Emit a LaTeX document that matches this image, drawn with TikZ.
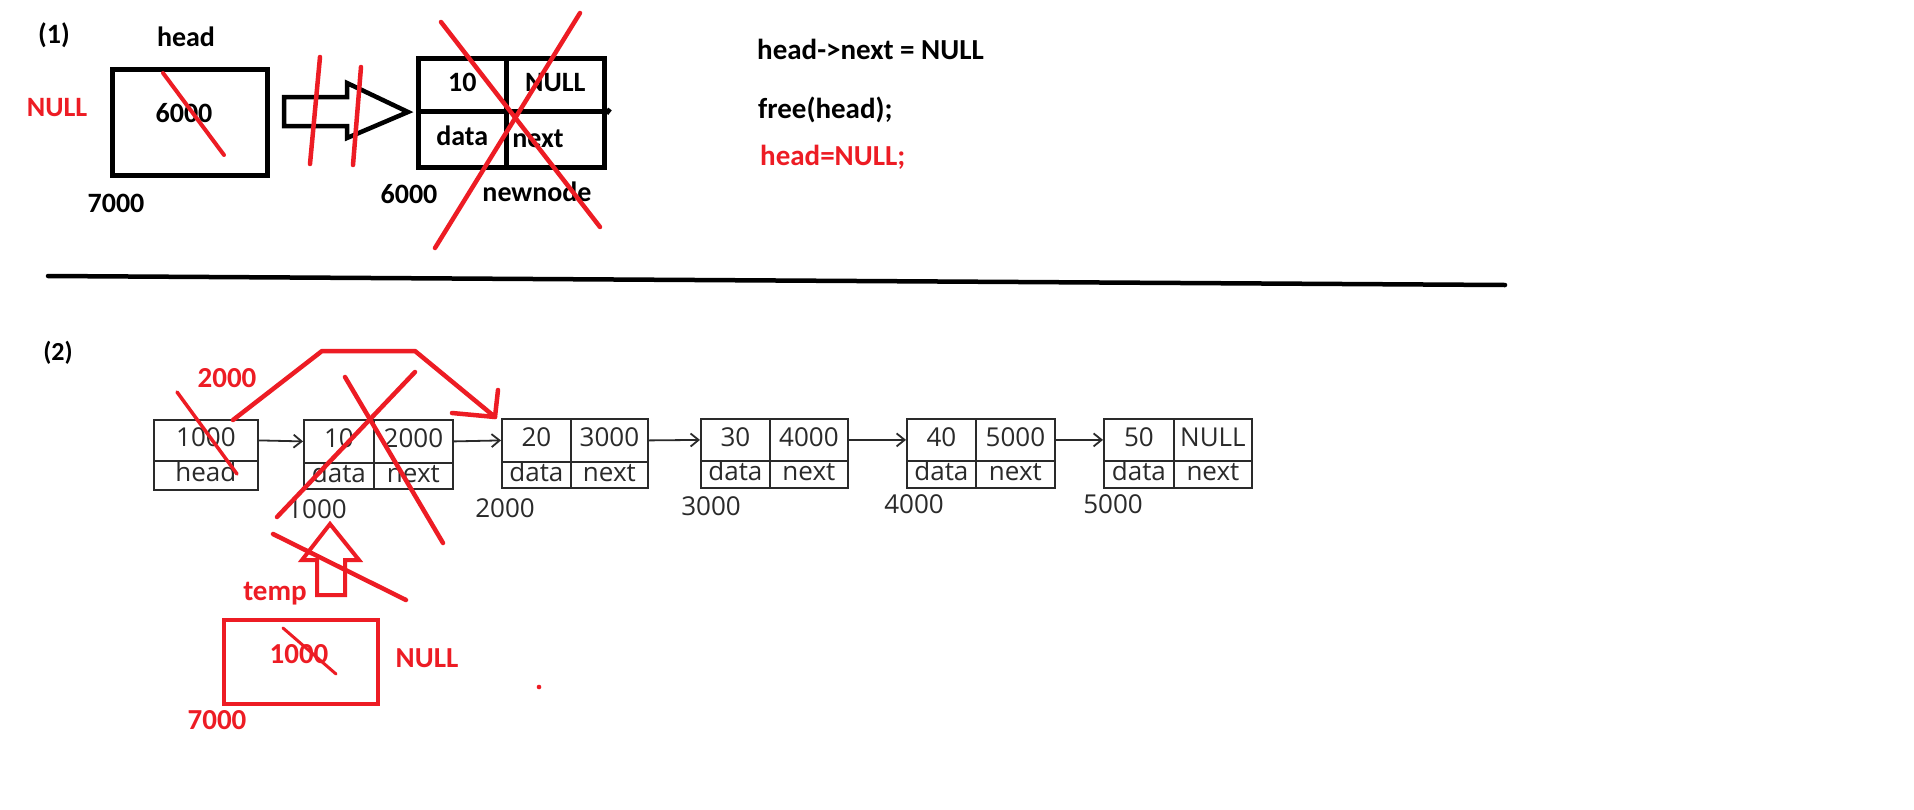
\documentclass[tikz,border=0pt]{standalone}
\usepackage{fontspec}
\setmainfont{Carlito}
\newfontfamily\osf{Open Sans}
\usetikzlibrary{arrows.meta}
\definecolor{pred}{HTML}{ED1C24}
\definecolor{lk}{HTML}{2A2A2A}
\begin{document}
\begin{tikzpicture}[x=1pt,y=-1pt,
 txt/.style={inner sep=0pt, text height=0.66em, text depth=0pt, yshift=-7pt},
 b28/.style={txt, font=\fontsize{28}{32}\selectfont\bfseries},
 b26/.style={txt, font=\fontsize{26}{30}\selectfont\bfseries},
 b29/.style={txt, font=\fontsize{29}{34}\selectfont\bfseries},
 r29/.style={b29, text=pred},
 code/.style={b29, anchor=west, yshift=-2pt},
 redln/.style={draw=pred, line width=4.5pt, line cap=round, line join=round},
 bigcell/.style={draw, line width=4.5pt, inner sep=0pt, anchor=north west, text height=1.25em, text depth=0pt, font=\fontsize{28}{32}\selectfont\bfseries},
 cell/.style={draw=lk, line width=1.8pt, inner sep=0pt, anchor=north west, text height=1.3em, text depth=0pt, text=lk, font=\osf\fontsize{26}{30}\selectfont},
 lab/.style={txt, text=lk, font=\osf\fontsize{26}{30}\selectfont},
 link/.style={draw=lk, line width=1.8pt, -{Straight Barb[length=8pt,width=13pt,line width=1.8pt]}},
]
\fill[white] (0,0) rectangle (1914,809);
\useasboundingbox (0,0) rectangle (1914,809);

% ---------- section (1) ----------
\node[b28] (p1) at (54,33) {(1)};
\node[b28] (hname) at (186,36) {head};
\node[b28, text=pred] (hnull) at (57,106) {NULL};
\node[bigcell, minimum width=155pt, minimum height=106pt] (hbox) at (110,67) {};
\node[b28] (hval) at (184,112) {6000};
\node[b28] (haddr) at (116,202) {7000};

% block arrow
\draw[line width=4.5pt, line join=miter] (284,97) -- (347,97) -- (347,83) -- (408,112) -- (347,138) -- (347,126) -- (284,126) -- cycle;

% newnode
\node[bigcell, minimum width=88pt, minimum height=53pt] (nn1) at (416,56) {10};
\node[bigcell, minimum width=98pt, minimum height=53pt] (nn2) at (504,56) {NULL};
\node[bigcell, minimum width=88pt, minimum height=56pt] (nn3) at (416,109) {data};
\node[bigcell, minimum width=98pt, minimum height=56pt] (nn4) at (504,109) {};
\node[b28] (nnext) at (538,137) {next};
\coordinate (ext) at (610,109);
\draw[line width=4.5pt] (nn2.south east) -- (ext);
\node[b28] (naddr) at (409,193) {6000};
\node[b28] (nname) at (537,191) {newnode};

% code
\node[code] (c1) at (757,47) {head->next = NULL};
\node[code] (c2) at (758,106) {free(head);};
\node[code, text=pred] (c3) at (760,153) {head=NULL;};

% red strokes (1)
\draw[redln, line width=4pt] (163,73) -- (224,155);
\draw[redln] (320,57) -- (310,164);
\draw[redln] (361,67) -- (353,165);
\draw[redln] (441,22) -- (600,227);
\draw[redln] (580,13) -- (435,248);

% separator
\draw[line width=4.5pt, line cap=round] (48,276) -- (1505,285);

% ---------- section (2) ----------
\node[b26] (p2) at (58,350) {(2)};
\node[r29] (r2000) at (227,377) {2000};

\node[cell, minimum width=104pt, minimum height=41pt] (hd1) at (153,419) {1000};
\node[cell, minimum width=104pt, minimum height=29pt] (hd2) at (153,460) {head};

\node[cell, minimum width=70pt, minimum height=43pt] (a1) at (303,419) {10};
\node[cell, minimum width=79pt, minimum height=43pt] (b1) at (373,419) {2000};
\node[cell, minimum width=70pt, minimum height=26pt] (c1n) at (303,462) {data};
\node[cell, minimum width=79pt, minimum height=26pt] (d1) at (373,462) {next};
\node[lab] (l1) at (317,508) {1000};

\node[cell, minimum width=69pt, minimum height=43pt] (a2) at (501,418) {20};
\node[cell, minimum width=77pt, minimum height=43pt] (b2) at (570,418) {3000};
\node[cell, minimum width=69pt, minimum height=26pt] (c2n) at (501,461) {data};
\node[cell, minimum width=77pt, minimum height=26pt] (d2) at (570,461) {next};
\node[lab] (l2) at (505,507) {2000};

\node[cell, minimum width=69pt, minimum height=42pt] (a3) at (700,418) {30};
\node[cell, minimum width=78pt, minimum height=42pt] (b3) at (769,418) {4000};
\node[cell, minimum width=69pt, minimum height=27pt] (c3n) at (700,460) {data};
\node[cell, minimum width=78pt, minimum height=27pt] (d3) at (769,460) {next};
\node[lab] (l3) at (711,505) {3000};

\node[cell, minimum width=69pt, minimum height=42pt] (a4) at (906,418) {40};
\node[cell, minimum width=79pt, minimum height=42pt] (b4) at (975,418) {5000};
\node[cell, minimum width=69pt, minimum height=27pt] (c4n) at (906,460) {data};
\node[cell, minimum width=79pt, minimum height=27pt] (d4) at (975,460) {next};
\node[lab] (l4) at (914,503) {4000};

\node[cell, minimum width=70pt, minimum height=42pt] (a5) at (1103,418) {50};
\node[cell, minimum width=78pt, minimum height=42pt] (b5) at (1173,418) {NULL};
\node[cell, minimum width=70pt, minimum height=27pt] (c5n) at (1103,460) {data};
\node[cell, minimum width=78pt, minimum height=27pt] (d5) at (1173,460) {next};
\node[lab] (l5) at (1113,503) {5000};

\draw[link] (hd1.east) -- (a1.west);
\draw[link] (b1.east) -- (a2.west);
\draw[link] (b2.east) -- (a3.west);
\draw[link] (b3.east) -- (a4.west);
\draw[link] (b4.east) -- (a5.west);

% red strokes (2)
\draw[redln, line width=3.5pt] (177,392) -- (237,474);
\coordinate (cv0) at (233,420);
\coordinate (cv1) at (322,351);
\coordinate (cv2) at (415,351);
\coordinate (cv3) at (495,417);
\draw[redln] (cv0) -- (cv1) -- (cv2) -- (cv3);
\draw[redln] (452,413) -- (cv3) -- (498,390);
\draw[redln] (345,377) -- (443,543);
\draw[redln] (415,372) -- (277,517);
\draw[redln] (273,534) -- (406,600);
\draw[draw=pred, line width=4pt, line join=miter] (317,595) -- (317,560) -- (302,560) -- (330,524) -- (359,560) -- (345,560) -- (345,595) -- cycle;
\node[r29] (temp) at (275,590) {temp};
\node[draw=pred, line width=4pt, minimum width=154pt, minimum height=84pt, anchor=north west, inner sep=0pt] (tbox) at (222,618) {};
\node[r29] (tval) at (299,653) {1000};
\draw[redln, line width=3pt] (283,628) -- (336,674);
\node[r29] (tnull) at (427,657) {NULL};
\node[r29] (taddr) at (217,719) {7000};
\fill[pred] (539,687) circle (2.3);
\end{tikzpicture}
\end{document}
